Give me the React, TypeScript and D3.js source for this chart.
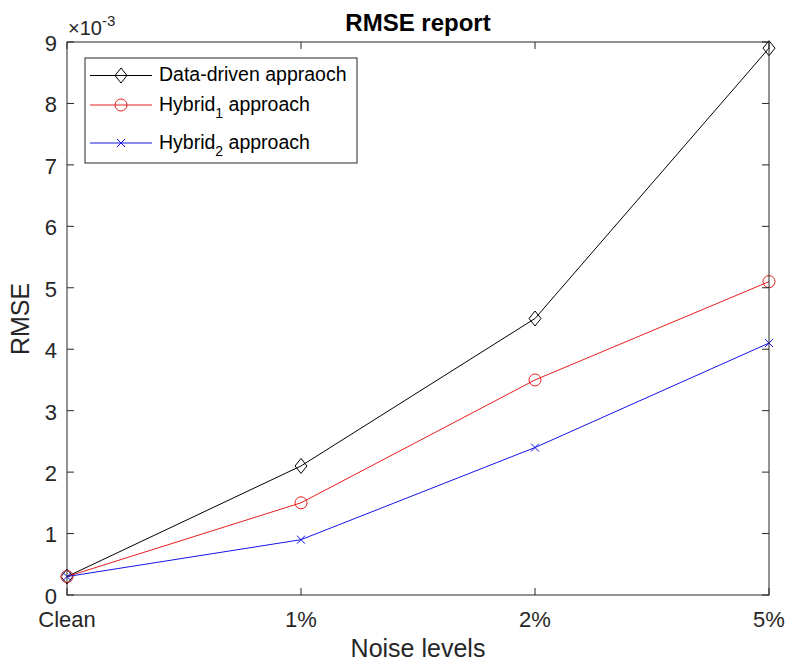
import * as d3 from 'd3';

const categories = ['Clean', '1%', '2%', '5%'];
const dataDriven = [0.3, 2.1, 4.5, 8.9];
const hybrid1 = [0.3, 1.5, 3.5, 5.1];
const hybrid2 = [0.3, 0.9, 2.4, 4.1];
const yTicks = [0, 1, 2, 3, 4, 5, 6, 7, 8, 9];

const series = [
  { key: 'data', values: dataDriven, color: '#000000', marker: 'diamond', label: 'Data-driven appraoch', sub: '' },
  { key: 'h1', values: hybrid1, color: '#e61e1e', marker: 'circle', label: 'Hybrid', sub: '1' },
  { key: 'h2', values: hybrid2, color: '#1414e6', marker: 'cross', label: 'Hybrid', sub: '2' }
];

const width = 786;
const height = 661;
const margin = { top: 42, right: 17, bottom: 66, left: 67 };
const font = '"Liberation Sans", Arial, Helvetica, sans-serif';
const axisColor = '#262626';

function Marker({ type, x, y, color }: { type: string; x: number; y: number; color: string }) {
  if (type === 'diamond') {
    return (
      <polygon
        points={`${x},${y - 7.5} ${x + 6},${y} ${x},${y + 7.5} ${x - 6},${y}`}
        fill="none"
        stroke={color}
        strokeWidth={1}
      />
    );
  }
  if (type === 'circle') {
    return <circle cx={x} cy={y} r={6} fill="none" stroke={color} strokeWidth={1} />;
  }
  return (
    <path
      d={`M${x - 4},${y - 4}L${x + 4},${y + 4}M${x - 4},${y + 4}L${x + 4},${y - 4}`}
      stroke={color}
      strokeWidth={1}
    />
  );
}

export default function App() {
  const x = d3
    .scalePoint<string>()
    .domain(categories)
    .range([margin.left, width - margin.right]);
  const y = d3
    .scaleLinear()
    .domain([0, 9])
    .range([height - margin.bottom, margin.top]);

  const line = d3
    .line<number>()
    .x((_, i) => x(categories[i]) as number)
    .y(d => y(d));

  const x0 = margin.left;
  const x1 = width - margin.right;
  const y0 = height - margin.bottom;
  const y1 = margin.top;
  const tick = 7;

  // legend layout
  const lg = { x: 85, y: 58, w: 272, h: 105 };
  const rows = [75.5, 105, 143];

  return (
    <svg width={width} height={height} style={{ position: 'absolute', left: 0, top: 0, background: '#fff' }} fontFamily={font}>
      <rect width={width} height={height} fill="#fff" />

      {/* lines + markers */}
      {series.map(s => (
        <g key={s.key}>
          <path d={line(s.values) || ''} fill="none" stroke={s.color} strokeWidth={1} />
          {s.values.map((v, i) => (
            <Marker key={i} type={s.marker} x={x(categories[i]) as number} y={y(v)} color={s.color} />
          ))}
        </g>
      ))}

      {/* axes box */}
      <rect x={x0} y={y1} width={x1 - x0} height={y0 - y1} fill="none" stroke={axisColor} strokeWidth={1} />

      {/* y ticks */}
      {yTicks.map(t => (
        <g key={t}>
          <line x1={x0} x2={x0 + tick} y1={y(t)} y2={y(t)} stroke={axisColor} />
          <line x1={x1} x2={x1 - tick} y1={y(t)} y2={y(t)} stroke={axisColor} />
          <text x={x0 - 10} y={y(t) + 1} dy="0.36em" textAnchor="end" fontSize={22} fill={axisColor}>
            {t}
          </text>
        </g>
      ))}

      {/* x ticks */}
      {categories.map(c => (
        <g key={c}>
          <line x1={x(c)} x2={x(c)} y1={y0} y2={y0 - tick} stroke={axisColor} />
          <line x1={x(c)} x2={x(c)} y1={y1} y2={y1 + tick} stroke={axisColor} />
          <text x={x(c)} y={y0 + 32} textAnchor="middle" fontSize={22} fill={axisColor}>
            {c}
          </text>
        </g>
      ))}

      {/* exponent */}
      <text x={68} y={35} fontSize={20} fill={axisColor}>
        ×10
        <tspan dy={-9} fontSize={15}>-3</tspan>
      </text>

      {/* title */}
      <text x={418} y={31} textAnchor="middle" fontSize={24} fontWeight="bold" fill="#000">
        RMSE report
      </text>

      {/* axis labels */}
      <text x={418} y={657} textAnchor="middle" fontSize={25} fill={axisColor}>
        Noise levels
      </text>
      <text transform={`translate(29, 319) rotate(-90)`} textAnchor="middle" fontSize={25} fill={axisColor}>
        RMSE
      </text>

      {/* legend */}
      <rect x={lg.x} y={lg.y} width={lg.w} height={lg.h} fill="#fff" stroke={axisColor} strokeWidth={1} />
      {series.map((s, i) => (
        <g key={s.key}>
          <line x1={90} x2={152} y1={rows[i]} y2={rows[i]} stroke={s.color} strokeWidth={1} />
          <Marker type={s.marker} x={121} y={rows[i]} color={s.color} />
          <text x={159} y={rows[i]} dy="0.3em" fontSize={19.5} fill="#000">
            {s.sub ? (
              <>
                {s.label}
                <tspan dy={7} fontSize={14}>{s.sub}</tspan>
                <tspan dy={-7}> approach</tspan>
              </>
            ) : (
              s.label
            )}
          </text>
        </g>
      ))}
    </svg>
  );
}
